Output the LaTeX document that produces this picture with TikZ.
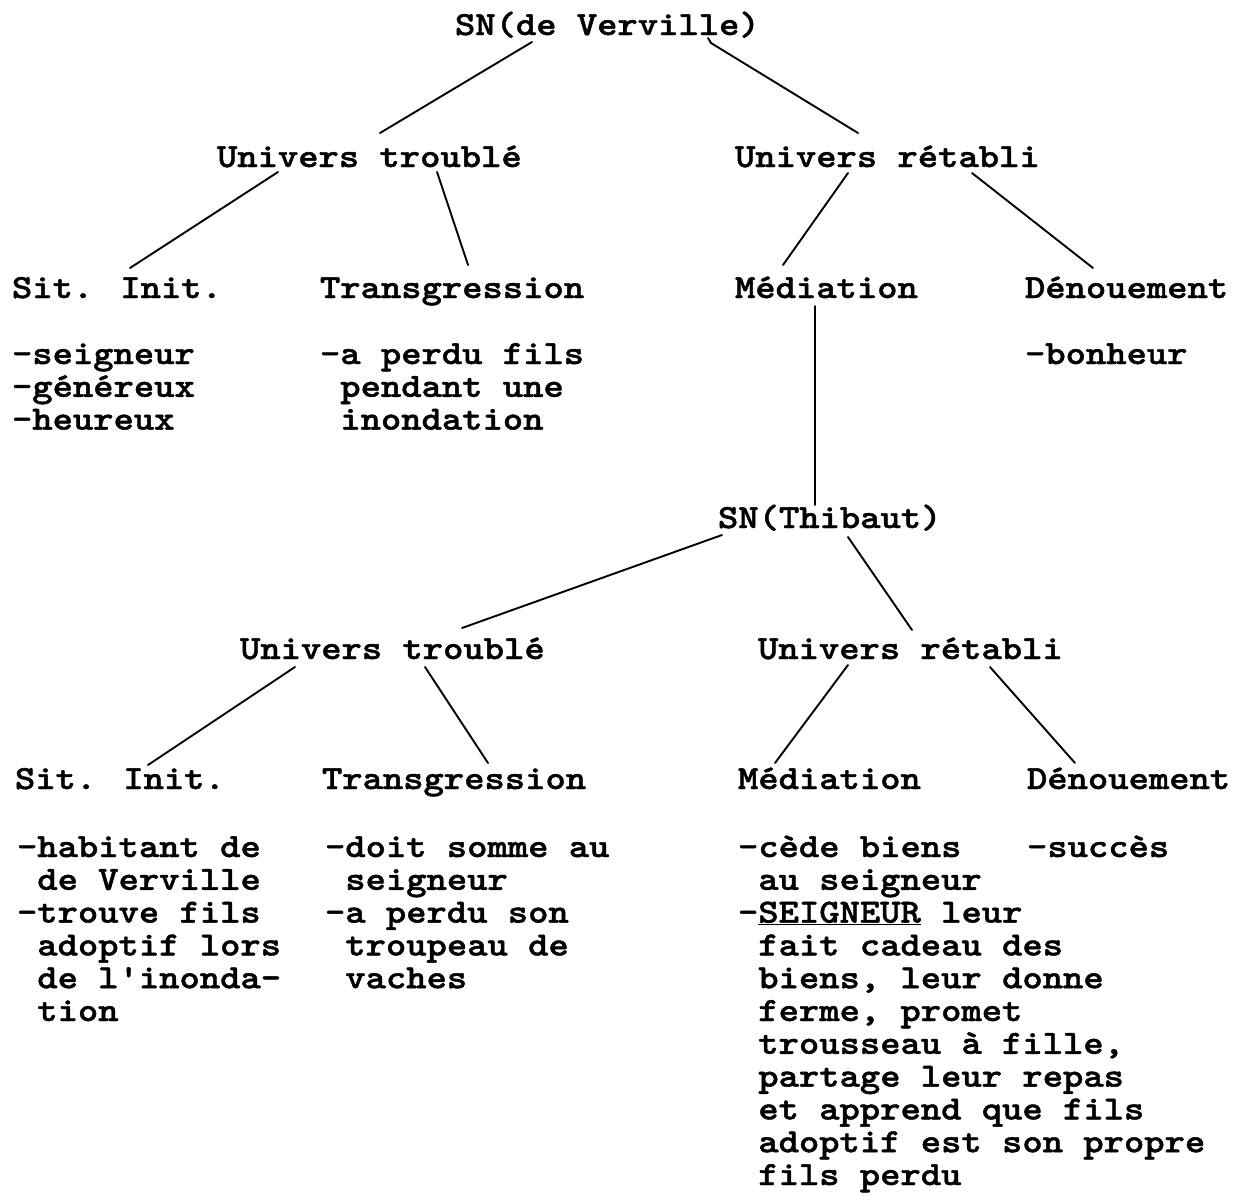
\documentclass[tikz,border=0pt]{standalone}
\usepackage{fontspec}
\newfontfamily\tw{Latin Modern Mono Light}[FakeStretch=1.145, FakeBold=1.3]
\newcommand\ind{\phantom{-}}
\newcommand\rw[1]{\hbox{#1}}
\newcommand\lst[1]{\vtop{\baselineskip=32.8pt\lineskiplimit=-\maxdimen\lineskip=0pt #1}}
\begin{document}
\begin{tikzpicture}[x=1pt,y=-1pt,
  lbl/.style={anchor=base west, inner sep=0pt, outer sep=0pt,
    font=\tw\bfseries\fontsize{33.8}{32.8}\selectfont},
  conn/.style={line width=1.9pt, line cap=round, line join=round}]
\useasboundingbox[fill=white] (0,0) rectangle (1242,1195);

% upper tree
\node[lbl] (sn1) at (455,35)  {SN(de Verville)};
\node[lbl] (ut1) at (217,167) {Univers troublé};
\node[lbl] (ur1) at (735,167) {Univers rétabli};
\node[lbl] (si1) at (12,298)   {Sit. Init.};
\node[lbl] (tr1) at (320,298)  {Transgression};
\node[lbl] (me1) at (735,298)  {Médiation};
\node[lbl] (de1) at (1025,298) {Dénouement};
\node[lbl] (si1l) at (12,364)   {\lst{\rw{-seigneur}\rw{-généreux}\rw{-heureux}}};
\node[lbl] (tr1l) at (320,364)  {\lst{\rw{-a perdu fils}\rw{\ind pendant une}\rw{\ind inondation}}};
\node[lbl] (de1l) at (1025,364) {\lst{\rw{-bonheur}}};

% lower tree
\node[lbl] (sn2) at (718,528) {SN(Thibaut)};
\node[lbl] (ut2) at (240,659) {Univers troublé};
\node[lbl] (ur2) at (758,659) {Univers rétabli};
\node[lbl] (si2) at (15,789)   {Sit. Init.};
\node[lbl] (tr2) at (322,789)  {Transgression};
\node[lbl] (me2) at (738,789)  {Médiation};
\node[lbl] (de2) at (1027,789) {Dénouement};
\node[lbl] (si2l) at (17,857) {\lst{\rw{-habitant de}\rw{\ind de Verville}\rw{-trouve fils}\rw{\ind adoptif lors}\rw{\ind de l\char"0027 inonda-}\rw{\ind tion}}};
\node[lbl] (tr2l) at (325,857) {\lst{\rw{-doit somme au}\rw{\ind seigneur}\rw{-a perdu son}\rw{\ind troupeau de}\rw{\ind vaches}}};
\node[lbl] (me2l) at (738,857) {\lst{\rw{-cède biens}\rw{\ind au seigneur}\rw{-\underline{SEIGNEUR} leur}\rw{\ind fait cadeau des}\rw{\ind biens, leur donne}\rw{\ind ferme, promet}\rw{\ind trousseau à fille,}\rw{\ind partage leur repas}\rw{\ind et apprend que fils}\rw{\ind adoptif est son propre}\rw{\ind fils perdu}}};
\node[lbl] (de2l) at (1027,857) {\lst{\rw{-succès}}};

% connectors, upper tree
\draw[conn] ([shift={(77,7)}]sn1.base west) -- ([shift={(163,-34)}]ut1.base west);
\draw[conn] ([shift={(253,3)}]sn1.base west) -- ([shift={(256,8)}]sn1.base west)
            -- ([shift={(123,-34)}]ur1.base west);
\draw[conn] ([shift={(61,5)}]ut1.base west) -- ([shift={(118,-30)}]si1.base west);
\draw[conn] ([shift={(220,5)}]ut1.base west) -- ([shift={(148,-33)}]tr1.base west);
\draw[conn] ([shift={(113,6)}]ur1.base west) -- ([shift={(48,-33)}]me1.base west);
\draw[conn] ([shift={(237,6)}]ur1.base west) -- ([shift={(68,-30)}]de1.base west);
\draw[conn] ([shift={(80,8)}]me1.base west) -- ([shift={(97,-23)}]sn2.base west);

% connectors, lower tree
\draw[conn] ([shift={(4,7)}]sn2.base west) -- ([shift={(222,-31)}]ut2.base west);
\draw[conn] ([shift={(130,9)}]sn2.base west) -- ([shift={(154,-29)}]ur2.base west);
\draw[conn] ([shift={(55,8)}]ut2.base west) -- ([shift={(133,-24)}]si2.base west);
\draw[conn] ([shift={(185,8)}]ut2.base west) -- ([shift={(166,-26)}]tr2.base west);
\draw[conn] ([shift={(90,6)}]ur2.base west) -- ([shift={(37,-26)}]me2.base west);
\draw[conn] ([shift={(232,8)}]ur2.base west) -- ([shift={(48,-26)}]de2.base west);
\end{tikzpicture}
\end{document}
